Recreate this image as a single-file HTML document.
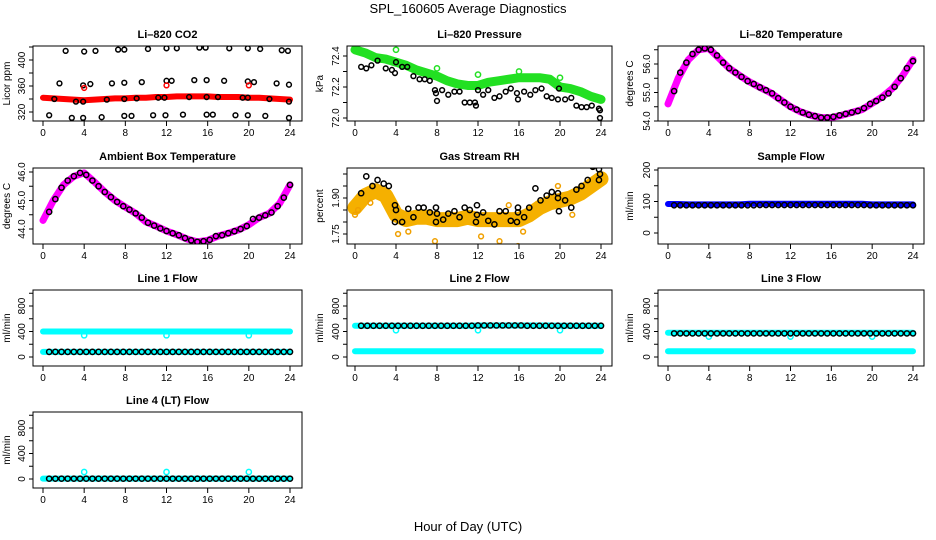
<!DOCTYPE html>
<html><head><meta charset="utf-8">
<style>
html,body{margin:0;padding:0;background:#fff;}
svg{display:block;font-family:"Liberation Sans",sans-serif;}
</style></head>
<body>
<svg id="c" width="936" height="540" viewBox="0 0 936 540" xmlns="http://www.w3.org/2000/svg">
<text x="468" y="13" text-anchor="middle" font-size="13">SPL_160605  Average Diagnostics</text>
<text x="468" y="531" text-anchor="middle" font-size="13">Hour of Day (UTC)</text>
</svg>
<script>
// ---- shared categories ----
const hours25 = [0,1,2,3,4,5,6,7,8,9,10,11,12,13,14,15,16,17,18,19,20,21,22,23,24];
const hours40 = [0.6,1.2,1.8,2.4,3.0,3.6,4.2,4.8,5.4,6.0,6.6,7.2,7.8,8.4,9.0,9.6,10.2,10.8,11.4,12.0,12.6,13.2,13.8,14.4,15.0,15.6,16.2,16.8,17.4,18.0,18.6,19.2,19.8,20.4,21.0,21.6,22.2,22.8,23.4,24.0];
const xTicks = [0,4,8,12,16,20,24];

// ---- CO2 ----
const co2Band = [342,341,340,339,338,339,340,341,341,342,342,343,343,344,344,344,344,343,343,343,342,342,341,340,339];
const co2TopH = [2.2,4,5.1,7.3,7.9,10.2,12,13,15.2,15.8,18.1,19.9,21.1,23.2,23.8];
const co2TopV = [414,413,414,416,416,417,418,418,419,419,418,418,417,415,414];
const co2MidH = [1.6,3.9,4.6,6.7,7.9,9.6,12,12.5,14.7,15.9,17.6,19.9,20.5,22.7,23.9];
const co2MidV = [364,361,363,364,365,366,368,368,369,369,368,367,366,364,362];
const co2LowH = [1.1,3.2,3.9,6.2,7.9,9.1,11.2,11.8,14.2,15.9,17,19.4,19.9,22,23.9];
const co2LowV = [340,336,336,339,340,341,342,342,343,343,343,342,342,340,336];
const co2BotH = [0.6,2.8,3.9,5.7,7.9,8.6,10.7,11.9,13.6,15.9,16.5,18.7,19.9,21.6,23.9];
const co2BotV = [315,311,311,312,314,314,315,315,316,316,316,315,315,314,311];
const co2RedH = [4,12,20];
const co2RedV = [357,361,361];

// ---- Pressure ----
const presBand = [72.44,72.42,72.39,72.38,72.36,72.34,72.31,72.29,72.27,72.24,72.22,72.21,72.21,72.23,72.24,72.25,72.26,72.26,72.26,72.25,72.2,72.19,72.17,72.14,72.12];
const presGreenH = [0,4,8,12,16,20];
const presGreenV = [72.46,72.44,72.32,72.28,72.3,72.26];
const presBlackH = [0.6,1.1,1.6,2.2,3,3.6,3.9,4,4.6,5.1,5.7,6.3,6.8,7.3,7.8,7.9,8,8.5,9.1,9.7,10.2,10.7,11.2,11.7,11.8,12,12.5,13,13.6,14.1,14.7,15.2,15.8,15.9,16.5,17.1,17.6,18.2,18.7,19.2,19.8,19.9,20.5,21.1,21.6,22.1,22.6,23.1,23.8,23.9,23.9];
const presBlackV = [72.33,72.32,72.34,72.37,72.32,72.31,72.29,72.36,72.33,72.33,72.27,72.25,72.25,72.24,72.18,72.16,72.11,72.18,72.15,72.17,72.17,72.1,72.1,72.1,72.08,72.18,72.15,72.18,72.13,72.14,72.17,72.19,72.16,72.12,72.17,72.15,72.18,72.19,72.14,72.13,72.12,72.19,72.12,72.13,72.08,72.07,72.07,72.08,72.06,72.05,72.0];

// ---- Li-820 Temperature ----
const liTempBand = [54.6,55.5,56.15,56.5,56.55,56.2,55.85,55.6,55.37,55.18,55.0,54.75,54.5,54.32,54.2,54.12,54.12,54.2,54.3,54.4,54.62,54.85,55.15,55.6,56.15];
const liTempPts = [55.05,55.7,56.05,56.35,56.5,56.55,56.5,56.3,56.05,55.85,55.7,55.55,55.4,55.3,55.18,55.08,54.97,54.8,54.65,54.5,54.4,54.3,54.22,54.17,54.12,54.12,54.15,54.2,54.25,54.3,54.35,54.45,54.6,54.7,54.82,54.97,55.2,55.5,55.85,56.1];

// ---- Ambient Box Temperature ----
const ambBand = [44.3,45.0,45.55,45.85,45.97,45.65,45.3,45.0,44.77,44.55,44.25,44.1,43.93,43.8,43.65,43.55,43.6,43.75,43.85,43.97,44.15,44.4,44.55,44.9,45.55];
const ambPts = [44.6,45.05,45.45,45.7,45.85,45.97,45.9,45.7,45.5,45.3,45.12,44.95,44.8,44.68,44.55,44.4,44.22,44.12,44.02,43.93,43.85,43.78,43.68,43.6,43.55,43.57,43.62,43.75,43.78,43.85,43.92,44.0,44.1,44.35,44.4,44.48,44.58,44.8,45.1,45.55];

// ---- Gas Stream RH ----
const rhBand = [1.86,1.91,1.93,1.91,1.83,1.81,1.82,1.82,1.81,1.81,1.81,1.82,1.81,1.81,1.81,1.81,1.81,1.83,1.86,1.88,1.89,1.9,1.92,1.95,1.98];
const rhOutH = [0,0.3,1.5,4.2,5.2,7.8,12.3,14.1,15,15.9,16.4,21.2,23.2,19.8];
const rhOutV = [1.83,1.85,1.88,1.75,1.76,1.72,1.74,1.72,1.87,1.70,1.76,1.83,2.03,1.95];
const rhBlackH = [0.6,1.1,1.7,2.2,2.8,3.3,3.9,4,3.9,4.6,5.2,5.7,6.2,6.7,7.3,7.9,7.9,8,8.6,9.1,9.7,10.2,10.7,11.2,11.8,11.9,11.9,12.5,13,13.6,14.1,14.7,15.2,15.8,15.9,15.9,16.5,17,17.6,18.1,18.7,19.2,19.8,19.8,19.9,20.5,21.1,21.6,22.1,22.7,23.2,23.8,23.9,23.8];
const rhBlackV = [1.92,1.99,1.95,1.975,1.96,1.95,1.87,1.85,1.8,1.8,1.855,1.82,1.86,1.86,1.84,1.86,1.8,1.835,1.81,1.835,1.845,1.82,1.86,1.85,1.8,1.83,1.87,1.84,1.805,1.79,1.845,1.845,1.805,1.8,1.84,1.86,1.82,1.86,1.94,1.89,1.91,1.925,1.92,1.9,1.845,1.89,1.86,1.935,1.95,1.975,2.03,2.02,2.0,1.975];

// ---- Sample Flow ----
const sfBand = [92,92,91,91,91,91,91,91,93,93,93,93,93,93,93,93,93,93,93,93,91,91,91,91,91];
const sfPts = [88,88,88,88,88,88,88,88,88,88,88,88,88,88,89,89,89,89,89,89,89,89,89,89,89,89,89,89,89,89,89,89,88,88,88,88,88,88,88,88];

// ---- Line flows ----
const l1High = [400,400,400,400,400,400,400,400,400,400,400,400,400,400,400,400,400,400,400,400,400,400,400,400,400];
const l1Low = [80,80,80,80,80,80,80,80,80,80,80,80,80,80,80,80,80,80,80,80,80,80,80,80,80];
const l1Pts = [80,80,80,80,80,80,80,80,80,80,80,80,80,80,80,80,80,80,80,80,80,80,80,80,80,80,80,80,80,80,80,80,80,80,80,80,80,80,80,80];
const l1DipH = [4,12,20];
const l1DipV = [340,340,340];

const l2High = [490,490,490,490,490,490,490,490,490,490,490,490,495,495,495,495,495,495,495,495,490,490,490,490,490];
const l2Low = [90,90,90,90,90,90,90,90,90,90,90,90,90,90,90,90,90,90,90,90,90,90,90,90,90];
const l2Pts = [490,490,490,490,490,490,490,490,490,490,490,490,490,490,490,490,490,490,490,495,495,495,495,495,495,495,495,490,490,490,490,490,490,490,490,490,490,490,490,490];
const l2DipH = [4,12,20];
const l2DipV = [420,420,420];

const l3High = [380,380,380,380,380,380,380,380,380,380,380,380,380,380,380,380,380,380,380,380,380,380,380,380,380];
const l3Low = [90,90,90,90,90,90,90,90,90,90,90,90,90,90,90,90,90,90,90,90,90,90,90,90,90];
const l3Pts = [370,370,370,370,370,370,370,370,370,370,370,370,370,370,370,370,370,370,370,370,370,370,370,370,370,370,370,370,370,370,370,370,370,370,370,370,370,370,370,370];
const l3DipH = [4,12,20];
const l3DipV = [320,320,320];

const l4Band = [5,5,5,5,5,5,5,5,5,5,5,5,5,5,5,5,5,5,5,5,5,5,5,5,5];
const l4Pts = [5,5,5,5,5,5,5,5,5,5,5,5,5,5,5,5,5,5,5,5,5,5,5,5,5,5,5,5,5,5,5,5,5,5,5,5,5,5,5,5];
const l4SpikeH = [4,12,20];
const l4SpikeV = [110,110,110];

const flowTicks = [0,200,400,600,800,1000];
const flowLabels = ['0','','400','','800',''];

const NS = 'http://www.w3.org/2000/svg';
const svg = document.getElementById('c');
const cols = [{x0:43,x24:290,bl:33,br:302,yl:10},{x0:355,x24:601,bl:347,br:612,yl:323},{x0:668,x24:913,bl:658,br:924,yl:633}];
const rows = [{t:46,b:121},{t:168,b:244},{t:290,b:366},{t:412,b:488}];

function mk(tag, attrs, parent){
  const e = document.createElementNS(NS, tag);
  for (const k in attrs) e.setAttribute(k, attrs[k]);
  (parent||svg).appendChild(e);
  return e;
}

function panel(cfg){
  const c = cols[cfg.col], r = rows[cfg.row];
  const g = mk('g', {});
  
  
  const xs = h => c.x0 + h*(c.x24-c.x0)/24;
  const ys = v => cfg.p1 + (v-cfg.v1)*(cfg.p2-cfg.p1)/(cfg.v2-cfg.v1);
  const t = mk('text', {x:(c.bl+c.br)/2, y:r.t-8, 'text-anchor':'middle','font-size':'11','font-weight':'bold'}, g);
  t.textContent = cfg.title;
  
  
  const cid = 'clip'+cfg.name;
  const cp = mk('clipPath', {id:cid}, g);
  mk('rect', {x:c.bl, y:r.t, width:c.br-c.bl, height:r.b-r.t}, cp);
  const pg = mk('g', {'clip-path':'url(#'+cid+')'}, g);
  
  
  cfg.draw(pg, xs, ys);
  const bx = mk('rect', {x:c.bl, y:r.t, width:c.br-c.bl, height:r.b-r.t, fill:'none', stroke:'#000','stroke-width':'1'}, g);
  
  
  const xa = mk('g', {}, g);
  
  
  xTicks.forEach(h => {
    mk('line', {x1:xs(h), x2:xs(h), y1:r.b, y2:r.b+5, stroke:'#000'}, xa);
    const tl = mk('text', {x:xs(h), y:r.b+15, 'text-anchor':'middle','font-size':'10'}, xa);
    tl.textContent = h;
  });
  const ya = mk('g', {}, g);
  
  
  cfg.ticks.forEach((v,i) => {
    const y = ys(v);
    if (y < r.t-3 || y > r.b+3) return;
    mk('line', {x1:c.bl-4, x2:c.bl, y1:y, y2:y, stroke:'#000'}, ya);
    const lab = cfg.labels[i];
    if (lab) {
      const tl = mk('text', {x:c.bl-8, y:y, 'text-anchor':'middle','font-size':'10', transform:'rotate(-90 '+(c.bl-8)+' '+y+')'}, ya);
      tl.textContent = lab;
    }
  });
  const yt = mk('text', {x:c.yl, y:(r.t+r.b)/2, 'text-anchor':'middle','font-size':'10', transform:'rotate(-90 '+c.yl+' '+((r.t+r.b)/2)+')'}, g);
  yt.textContent = cfg.ylab;
  
  
}

function band(p, xs, ys, hs, vs, color, w, name){
  const pts = hs.map((h,i) => xs(h)+','+ys(vs[i])).join(' ');
  const pl = mk('polyline', {points:pts, fill:'none', stroke:color, 'stroke-width':w, 'stroke-linecap':'round','stroke-linejoin':'round'}, p);
  
  
  return pl;
}
function circles(p, xs, ys, hs, vs, color, rr, name){
  const g = mk('g', {}, p);
  
  
  hs.forEach((h,i) => {
    const ci = mk('circle', {cx:xs(h), cy:ys(vs[i]), r:rr||2.6, fill:'none', stroke:color, 'stroke-width':'1.5'}, g);
    
    
  });
}

panel({col:0,row:0,name:'co2',title:'Li\u2013820 CO2',ylab:'Licor ppm',v1:320,p1:112,v2:400,p2:60,
  ticks:[320,340,360,380,400,420],labels:['320','','360','','400',''],
  draw:(p,xs,ys)=>{
    band(p,xs,ys,hours25,co2Band,'#ff0000',6,'co2-band');
    circles(p,xs,ys,co2TopH,co2TopV,'#000',2.4,'co2-top-points');
    circles(p,xs,ys,co2MidH,co2MidV,'#000',2.4,'co2-mid-points');
    circles(p,xs,ys,co2LowH,co2LowV,'#000',2.4,'co2-low-points');
    circles(p,xs,ys,co2BotH,co2BotV,'#000',2.4,'co2-bottom-points');
    circles(p,xs,ys,co2RedH,co2RedV,'#ff0000',2.4,'co2-red-points');
  }});
panel({col:1,row:0,name:'pressure',title:'Li\u2013820 Pressure',ylab:'kPa',v1:72.0,p1:118,v2:72.4,p2:56,
  ticks:[72.0,72.1,72.2,72.3,72.4],labels:['72.0','','72.2','','72.4'],
  draw:(p,xs,ys)=>{
    band(p,xs,ys,hours25,presBand,'#22e022',9,'pressure-band');
    circles(p,xs,ys,presGreenH,presGreenV,'#22e022',2.6,'pressure-green-points');
    circles(p,xs,ys,presBlackH,presBlackV,'#000',2.4,'pressure-black-points');
  }});
panel({col:2,row:0,name:'li820-temp',title:'Li\u2013820 Temperature',ylab:'degrees C',v1:54.0,p1:121,v2:56.0,p2:64,
  ticks:[54.0,54.5,55.0,55.5,56.0,56.5],labels:['54.0','','55.0','','56.0',''],
  draw:(p,xs,ys)=>{
    band(p,xs,ys,hours25,liTempBand,'#ff00ff',7,'li820-temp-band');
    circles(p,xs,ys,hours40,liTempPts,'#000',2.6,'li820-temp-points');
  }});
panel({col:0,row:1,name:'ambient-temp',title:'Ambient Box Temperature',ylab:'degrees C',v1:44.0,p1:229,v2:46.0,p2:172,
  ticks:[44.0,44.5,45.0,45.5,46.0],labels:['44.0','','45.0','','46.0'],
  draw:(p,xs,ys)=>{
    band(p,xs,ys,hours25,ambBand,'#ff00ff',7,'ambient-temp-band');
    circles(p,xs,ys,hours40,ambPts,'#000',2.6,'ambient-temp-points');
  }});
panel({col:1,row:1,name:'rh',title:'Gas Stream RH',ylab:'percent',v1:1.75,p1:234,v2:1.90,p2:198,
  ticks:[1.75,1.80,1.85,1.90,1.95,2.00],labels:['1.75','','','1.90','',''],
  draw:(p,xs,ys)=>{
    band(p,xs,ys,hours25,rhBand,'#f5b000',15,'rh-band');
    circles(p,xs,ys,rhOutH,rhOutV,'#f0a000',2.4,'rh-outlier-points');
    circles(p,xs,ys,rhBlackH,rhBlackV,'#000',2.6,'rh-black-points');
  }});
panel({col:2,row:1,name:'sample-flow',title:'Sample Flow',ylab:'ml/min',v1:0,p1:233,v2:200,p2:170,
  ticks:[0,50,100,150,200],labels:['0','','100','','200'],
  draw:(p,xs,ys)=>{
    band(p,xs,ys,hours25,sfBand,'#0000ff',6,'sample-flow-band');
    circles(p,xs,ys,hours40,sfPts,'#000',2.6,'sample-flow-points');
  }});
panel({col:0,row:2,name:'line1-flow',title:'Line 1 Flow',ylab:'ml/min',v1:0,p1:357,v2:800,p2:306,
  ticks:flowTicks,labels:flowLabels,
  draw:(p,xs,ys)=>{
    band(p,xs,ys,hours25,l1High,'#00ffff',6,'line1-high-band');
    band(p,xs,ys,hours25,l1Low,'#00ffff',6,'line1-low-band');
    circles(p,xs,ys,l1DipH,l1DipV,'#00ffff',2.6,'line1-dip-points');
    circles(p,xs,ys,hours40,l1Pts,'#000',2.6,'line1-points');
  }});
panel({col:1,row:2,name:'line2-flow',title:'Line 2 Flow',ylab:'ml/min',v1:0,p1:357,v2:800,p2:306,
  ticks:flowTicks,labels:flowLabels,
  draw:(p,xs,ys)=>{
    band(p,xs,ys,hours25,l2High,'#00ffff',6,'line2-high-band');
    band(p,xs,ys,hours25,l2Low,'#00ffff',6,'line2-low-band');
    circles(p,xs,ys,l2DipH,l2DipV,'#00ffff',2.6,'line2-dip-points');
    circles(p,xs,ys,hours40,l2Pts,'#000',2.6,'line2-points');
  }});
panel({col:2,row:2,name:'line3-flow',title:'Line 3 Flow',ylab:'ml/min',v1:0,p1:357,v2:800,p2:306,
  ticks:flowTicks,labels:flowLabels,
  draw:(p,xs,ys)=>{
    band(p,xs,ys,hours25,l3High,'#00ffff',6,'line3-high-band');
    band(p,xs,ys,hours25,l3Low,'#00ffff',6,'line3-low-band');
    circles(p,xs,ys,l3DipH,l3DipV,'#00ffff',2.6,'line3-dip-points');
    circles(p,xs,ys,hours40,l3Pts,'#000',2.6,'line3-points');
  }});
panel({col:0,row:3,name:'line4-flow',title:'Line 4 (LT) Flow',ylab:'ml/min',v1:0,p1:479,v2:800,p2:428,
  ticks:flowTicks,labels:flowLabels,
  draw:(p,xs,ys)=>{
    band(p,xs,ys,hours25,l4Band,'#00ffff',6,'line4-band');
    circles(p,xs,ys,l4SpikeH,l4SpikeV,'#00ffff',2.6,'line4-spike-points');
    circles(p,xs,ys,hours40,l4Pts,'#000',2.6,'line4-points');
  }});
</script>
</body></html>
